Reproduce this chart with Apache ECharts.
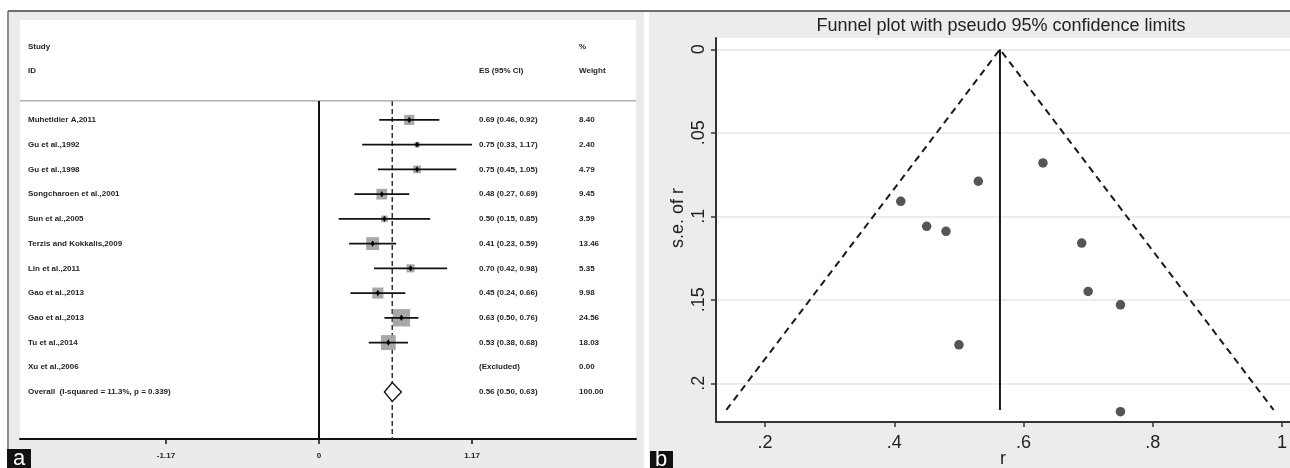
<!DOCTYPE html>
<html>
<head>
<meta charset="utf-8">
<script src="https://cdn.jsdelivr.net/npm/echarts@6/dist/echarts.min.js"></script>
<style>
  html, body { margin: 0; background: #fff; }
  #main { width: 1290px; height: 468px; }
</style>
</head>
<body>
<div id="main"></div>
<script>
// ---- panel a : forest plot data ----
var studies = ['Muhetidier A,2011', 'Gu et al.,1992', 'Gu et al.,1998', 'Songcharoen et al.,2001',
  'Sun et al.,2005', 'Terzis and Kokkalis,2009', 'Lin et al.,2011', 'Gao et al.,2013',
  'Gao et al.,2013', 'Tu et al.,2014', 'Xu et al.,2006']
var es = [0.69, 0.75, 0.75, 0.48, 0.50, 0.41, 0.70, 0.45, 0.63, 0.53, null]
var ciLow = [0.46, 0.33, 0.45, 0.27, 0.15, 0.23, 0.42, 0.24, 0.50, 0.38, null]
var ciHigh = [0.92, 1.17, 1.05, 0.69, 0.85, 0.59, 0.98, 0.66, 0.76, 0.68, null]
var weights = [8.40, 2.40, 4.79, 9.45, 3.59, 13.46, 5.35, 9.98, 24.56, 18.03, 0.00]
var overallLabel = 'Overall  (I-squared = 11.3%, p = 0.339)'
var overallES = [0.56, 0.50, 0.63]   // estimate, low, high
var overallWeight = 100.00
var forestTicks = [-1.17, 0, 1.17]

// ---- panel b : funnel plot data ----
var funnelR = [0.41, 0.45, 0.48, 0.53, 0.63, 0.69, 0.70, 0.75, 0.75, 0.50]
var funnelSE = [0.091, 0.106, 0.109, 0.079, 0.068, 0.116, 0.145, 0.153, 0.217, 0.177]
var limitR = [0.140, 0.5635, 0.987]
var limitSE = [0.216, 0, 0.216]
var pooledR = 0.5635
var funnelXTicks = [0.2, 0.4, 0.6, 0.8, 1]
var funnelYTicks = [0, 0.05, 0.1, 0.15, 0.2]

var FONT = '"Liberation Sans", Arial, sans-serif'
var TXT = { fontSize: 8, fontWeight: 'bold', fontFamily: FONT, fill: '#1f1f1f' }
// table column positions (in forest x units) and row bounds
var colName = -2.225, colES = 1.223, colW = 1.988
var rowTop = 0.23, rowBottom = 13.9

var chart = echarts.init(document.getElementById('main'))

var studyData = []
studies.forEach(function (s, i) {
  if (es[i] != null) studyData.push([es[i], i + 1, ciLow[i], ciHigh[i], weights[i]])
})

var tableRows = studies.concat([overallLabel])
var esLabels = studies.map(function (s, i) {
  return es[i] == null ? '(Excluded)' :
    es[i].toFixed(2) + ' (' + ciLow[i].toFixed(2) + ', ' + ciHigh[i].toFixed(2) + ')'
}).concat([overallES[0].toFixed(2) + ' (' + overallES[1].toFixed(2) + ', ' + overallES[2].toFixed(2) + ')'])
var weightLabels = weights.map(function (w) { return w.toFixed(2) }).concat([overallWeight.toFixed(2)])

function txt(x, y, s) {
  return { type: 'text', style: Object.assign({ x: x, y: y, text: s, verticalAlign: 'middle', align: 'left' }, TXT) }
}

function renderStudy(params, api) {
  var c = api.coord([api.value(0), api.value(1)])
  var a = api.coord([api.value(2), api.value(1)])
  var b = api.coord([api.value(3), api.value(1)])
  var side = 3.5 * Math.sqrt(api.value(4))
  return {
    type: 'group', children: [
      { type: 'rect', shape: { x: c[0] - side / 2, y: c[1] - side / 2, width: side, height: side }, style: { fill: '#a8a8a8' } },
      { type: 'line', shape: { x1: a[0], y1: a[1], x2: b[0], y2: b[1] }, style: { stroke: '#111', lineWidth: 1.7 } },
      { type: 'polygon', shape: { points: [[c[0], c[1] - 3.2], [c[0] + 2, c[1]], [c[0], c[1] + 3.2], [c[0] - 2, c[1]]] }, style: { fill: '#000' } }
    ]
  }
}

function renderOverall(params, api) {
  var row = api.value(1)
  var c = api.coord([api.value(0), row])
  var a = api.coord([api.value(2), row])
  var b = api.coord([api.value(3), row])
  return {
    type: 'polygon',
    shape: { points: [[a[0], c[1]], [c[0], c[1] - 9.5], [b[0], c[1]], [c[0], c[1] + 9.5]] },
    style: { fill: '#fff', stroke: '#111', lineWidth: 1.3 }
  }
}

function renderTable(params, api) {
  var i = params.dataIndex
  var row = api.value(1)
  var p1 = api.coord([colName, row]), p2 = api.coord([colES, row]), p3 = api.coord([colW, row])
  return { type: 'group', children: [txt(p1[0], p1[1], tableRows[i]), txt(p2[0], p2[1], esLabels[i]), txt(p3[0], p3[1], weightLabels[i])] }
}

function renderHeader(params, api) {
  var s1 = api.coord([colName, -1.95]), s2 = api.coord([colName, -0.98])
  var e2 = api.coord([colES, -0.98]), w1 = api.coord([colW, -1.95]), w2 = api.coord([colW, -0.98])
  return { type: 'group', children: [txt(s1[0], s1[1], 'Study'), txt(s2[0], s2[1], 'ID'),
    txt(e2[0], e2[1], 'ES (95% CI)'), txt(w1[0], w1[1], '%'), txt(w2[0], w2[1], 'Weight')] }
}

function dotFmt(v) {
  if (v === 0) return '0'
  if (v === 1) return '1'
  return String(+v.toFixed(2)).replace('0.', '.')
}

var option = {
  animation: false,
  backgroundColor: '#fff',
  title: {
    text: 'Funnel plot with pseudo 95% confidence limits',
    left: 1001, top: 17, padding: 0, textAlign: 'center',
    textStyle: { fontSize: 18, fontWeight: 'normal', color: '#222', fontFamily: FONT }
  },
  graphic: [
    { type: 'rect', z: -10, shape: { x: 8, y: 11, width: 636, height: 457 }, style: { fill: '#ebebeb' } },
    { type: 'rect', z: -10, shape: { x: 649, y: 11, width: 641, height: 457 }, style: { fill: '#ececec' } },
    { type: 'line', z: -9, shape: { x1: 8, y1: 11, x2: 1290, y2: 11 }, style: { stroke: '#6e6e6e', lineWidth: 2 } },
    { type: 'line', z: -9, shape: { x1: 8, y1: 11, x2: 8, y2: 468 }, style: { stroke: '#6e6e6e', lineWidth: 1.5 } },
    { type: 'text', x: 678, y: 218, rotation: Math.PI / 2,
      style: { text: 's.e. of r', align: 'center', verticalAlign: 'middle', fontSize: 18, fontFamily: FONT, fill: '#222' } },
    { type: 'rect', z: 100, shape: { x: 7, y: 449, width: 24, height: 19 }, style: { fill: '#111' } },
    { type: 'text', z: 101, x: 19, y: 459, style: { text: 'a', align: 'center', verticalAlign: 'middle', fontSize: 22, fontFamily: FONT, fill: '#fff' } },
    { type: 'rect', z: 100, shape: { x: 650, y: 451, width: 23, height: 17 }, style: { fill: '#111' } },
    { type: 'text', z: 101, x: 661, y: 460, style: { text: 'b', align: 'center', verticalAlign: 'middle', fontSize: 22, fontFamily: FONT, fill: '#fff' } }
  ],
  grid: [
    { left: 20, right: 654, top: 20, bottom: 29, show: true, backgroundColor: '#fff', borderWidth: 0, outerBoundsMode: 'none' },
    { left: 716, right: 0, top: 38, bottom: 46, show: true, backgroundColor: '#fff', borderWidth: 0, outerBoundsMode: 'none' }
  ],
  xAxis: [
    {
      gridIndex: 0, type: 'value', min: -2.286, max: 2.4235,
      axisLine: { onZero: false, lineStyle: { color: '#111', width: 2 } },
      axisTick: { customValues: forestTicks, length: 5, lineStyle: { color: '#111', width: 1.5 } },
      axisLabel: { customValues: forestTicks, margin: 13, fontSize: 8, fontWeight: 'bold', color: '#1f1f1f', fontFamily: FONT,
        formatter: function (v) { return v === 0 ? '0' : v.toFixed(2) } },
      splitLine: { show: false }
    },
    {
      gridIndex: 1, type: 'value', min: 0.124, max: 1.0124,
      name: 'r', nameLocation: 'middle', nameGap: 28, nameMoveOverlap: false,
      nameTextStyle: { fontSize: 18, color: '#222', fontFamily: FONT },
      axisLine: { onZero: false, lineStyle: { color: '#333', width: 2 } },
      axisTick: { customValues: funnelXTicks, length: 5, lineStyle: { color: '#333', width: 1.5 } },
      axisLabel: { customValues: funnelXTicks, margin: 12, fontSize: 18, color: '#222', fontFamily: FONT, formatter: dotFmt },
      splitLine: { show: false }
    }
  ],
  yAxis: [
    { gridIndex: 0, type: 'value', min: -3.04, max: rowBottom, inverse: true, show: false },
    {
      gridIndex: 1, type: 'value', min: -0.0068, max: 0.2232, inverse: true,
      axisLine: { onZero: false, lineStyle: { color: '#333', width: 2 } },
      axisTick: { customValues: funnelYTicks, length: 5, lineStyle: { color: '#333', width: 1.5 } },
      axisLabel: { customValues: funnelYTicks, rotate: 90, margin: 8, fontSize: 18, color: '#222', fontFamily: FONT, formatter: dotFmt },
      splitLine: { show: true, lineStyle: { color: '#e6e6e6', width: 1.5 } }
    }
  ],
  series: [
    // header separator, zero line, pooled dashed line
    { type: 'line', xAxisIndex: 0, yAxisIndex: 0, symbol: 'none', silent: true,
      data: [[-2.286, rowTop], [2.4235, rowTop]], lineStyle: { color: '#8a8a8a', width: 1 } },
    { type: 'line', xAxisIndex: 0, yAxisIndex: 0, symbol: 'none', silent: true,
      data: [[0, rowTop], [0, rowBottom]], lineStyle: { color: '#111', width: 2 } },
    { type: 'line', xAxisIndex: 0, yAxisIndex: 0, symbol: 'none', silent: true, z: 1,
      data: [[overallES[0], rowTop], [overallES[0], rowBottom]], lineStyle: { color: '#333', width: 1.5, type: [5, 3] } },
    { type: 'custom', xAxisIndex: 0, yAxisIndex: 0, renderItem: renderStudy, data: studyData, z: 3 },
    { type: 'custom', xAxisIndex: 0, yAxisIndex: 0, renderItem: renderOverall,
      data: [[overallES[0], studies.length + 1, overallES[1], overallES[2]]], z: 3 },
    { type: 'custom', xAxisIndex: 0, yAxisIndex: 0, renderItem: renderTable,
      data: tableRows.map(function (s, i) { return [colName, i + 1] }), z: 4 },
    { type: 'custom', xAxisIndex: 0, yAxisIndex: 0, renderItem: renderHeader, data: [[colName, -1]], z: 4 },
    // funnel
    { type: 'line', xAxisIndex: 1, yAxisIndex: 1, symbol: 'none', silent: true,
      data: limitR.map(function (r, i) { return [r, limitSE[i]] }), lineStyle: { color: '#1a1a1a', width: 2, type: [7, 5] } },
    { type: 'line', xAxisIndex: 1, yAxisIndex: 1, symbol: 'none', silent: true,
      data: [[pooledR, limitSE[1]], [pooledR, limitSE[0]]], lineStyle: { color: '#1a1a1a', width: 2 } },
    { type: 'scatter', xAxisIndex: 1, yAxisIndex: 1, symbolSize: 9.5, itemStyle: { color: '#2b2b2b' },
      data: funnelR.map(function (r, i) { return [r, funnelSE[i]] }) }
  ]
}

chart.setOption(option)
</script>
</body>
</html>
